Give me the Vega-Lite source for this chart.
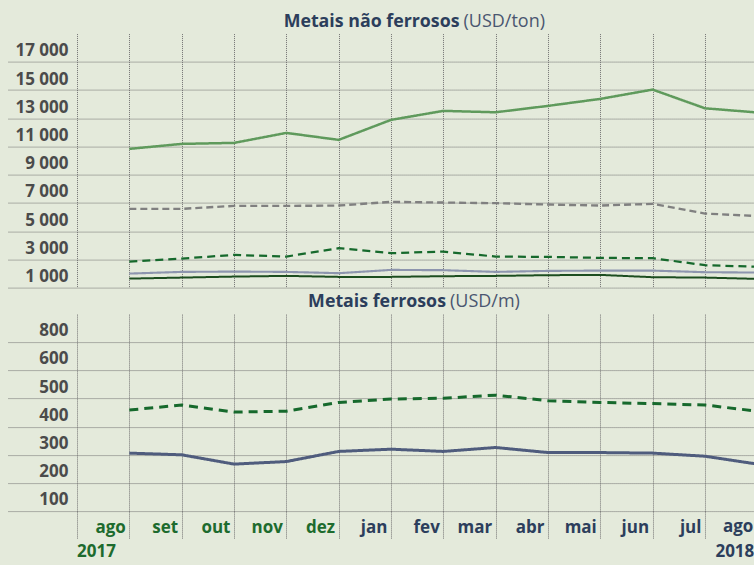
{
  "$schema": "https://vega.github.io/schema/vega-lite/v6.json",
  "background": "#e4eadb",
  "padding": {"left": 8, "top": 12.6, "right": 0, "bottom": 4},
  "spacing": 4.5,
  "resolve": {"scale": {"color": "independent", "strokeDash": "independent", "strokeWidth": "independent"}},
  "config": {
    "view": {"stroke": null},
    "font": "Open Sans",
    "axis": {
      "gridColor": "#707070",
      "gridDash": [1, 1],
      "gridWidth": 1,
      "gridOpacity": 1,
      "domain": false,
      "title": null,
      "tickCount": 40,
      "labelFont": "Open Sans",
      "labelFontWeight": "bold",
      "labelFontSize": 17,
      "labelOverlap": false,
      "labelFlush": false
    }
  },
  "datasets": {
    "naoferrosos": [
      {"i": 1, "mes": "ago 2017", "A": 10830, "B": 6580, "C": 2843, "D": 1993, "E": 1638},
      {"i": 2, "mes": "set 2017", "A": 11184, "B": 6580, "C": 3056, "D": 2113, "E": 1709},
      {"i": 3, "mes": "out 2017", "A": 11255, "B": 6792, "C": 3318, "D": 2134, "E": 1780},
      {"i": 4, "mes": "nov 2017", "A": 11963, "B": 6792, "C": 3198, "D": 2113, "E": 1830},
      {"i": 5, "mes": "dez 2017", "A": 11468, "B": 6814, "C": 3793, "D": 2021, "E": 1759},
      {"i": 6, "mes": "jan 2018", "A": 12885, "B": 7076, "C": 3439, "D": 2255, "E": 1759},
      {"i": 7, "mes": "fev 2018", "A": 13523, "B": 7027, "C": 3552, "D": 2234, "E": 1808},
      {"i": 8, "mes": "mar 2018", "A": 13424, "B": 6984, "C": 3198, "D": 2113, "E": 1830},
      {"i": 9, "mes": "abr 2018", "A": 13877, "B": 6885, "C": 3177, "D": 2184, "E": 1879},
      {"i": 10, "mes": "mai 2018", "A": 14373, "B": 6814, "C": 3106, "D": 2205, "E": 1900},
      {"i": 11, "mes": "jun 2018", "A": 15032, "B": 6934, "C": 3084, "D": 2205, "E": 1737},
      {"i": 12, "mes": "jul 2018", "A": 13707, "B": 6247, "C": 2588, "D": 2092, "E": 1709},
      {"i": 13, "mes": "ago 2018", "A": 13409, "B": 6070, "C": 2482, "D": 2064, "E": 1617}
    ],
    "ferrosos": [
      {"i": 1, "mes": "ago 2017", "A": 459, "B": 306},
      {"i": 2, "mes": "set 2017", "A": 477, "B": 300},
      {"i": 3, "mes": "out 2017", "A": 452, "B": 267},
      {"i": 4, "mes": "nov 2017", "A": 455, "B": 276},
      {"i": 5, "mes": "dez 2017", "A": 486, "B": 312},
      {"i": 6, "mes": "jan 2018", "A": 498, "B": 320},
      {"i": 7, "mes": "fev 2018", "A": 501, "B": 312},
      {"i": 8, "mes": "mar 2018", "A": 512, "B": 326},
      {"i": 9, "mes": "abr 2018", "A": 492, "B": 308},
      {"i": 10, "mes": "mai 2018", "A": 486, "B": 308},
      {"i": 11, "mes": "jun 2018", "A": 482, "B": 306},
      {"i": 12, "mes": "jul 2018", "A": 477, "B": 295},
      {"i": 13, "mes": "ago 2018", "A": 455, "B": 267}
    ]
  },
  "vconcat": [
    {
      "width": 746,
      "height": 254,
      "layer": [
        {
          "data": {"name": "naoferrosos"},
          "transform": [{"fold": ["A", "B", "C", "D", "E"], "as": ["serie", "v"]}],
          "mark": {"type": "line", "clip": true},
          "encoding": {
            "x": {
              "field": "i", "type": "quantitative",
              "scale": {"domain": [-1.3185, 12.937], "nice": false, "zero": false},
              "axis": {"values": [0, 1, 2, 3, 4, 5, 6, 7, 8, 9, 10, 11, 12], "labels": false, "ticks": false, "grid": true}
            },
            "y": {
              "field": "v", "type": "quantitative",
              "scale": {"domain": [1000, 19000], "nice": false, "zero": false},
              "axis": {
                "values": [1000, 3000, 5000, 7000, 9000, 11000, 13000, 15000, 17000],
                "ticks": false, "grid": true,
                "labelAlign": "right", "labelPadding": -60,
                "labelBaseline": "alphabetic", "labelOffset": -6,
                "labelColor": "#4b4b4b",
                "labelExpr": "replace(format(datum.value, ','), ',', ' ')"
              }
            },
            "color": {
              "field": "serie", "type": "nominal",
              "scale": {"domain": ["A", "B", "C", "D", "E"], "range": ["#5f9a5c", "#808080", "#16692c", "#8d95ae", "#1c4d1f"]},
              "legend": null
            },
            "strokeDash": {
              "field": "serie", "type": "nominal",
              "scale": {"domain": ["A", "B", "C", "D", "E"], "range": [[1, 0], [7, 4], [8, 5], [1, 0], [1, 0]]},
              "legend": null
            },
            "strokeWidth": {
              "field": "serie", "type": "ordinal",
              "scale": {"domain": ["A", "B", "C", "D", "E"], "range": [2.5, 2, 3, 3, 3]},
              "legend": null
            }
          }
        },
        {
          "data": {"values": [{"titulo": "Metais não ferrosos", "unidade": "(USD/ton)"}]},
          "layer": [
            {
              "mark": {"type": "text", "align": "right", "baseline": "alphabetic", "font": "Open Sans", "fontWeight": "bold", "fontSize": 17.8, "color": "#2c3e5c"},
              "encoding": {"text": {"field": "titulo"}, "x": {"datum": 7.31, "type": "quantitative"}, "y": {"datum": 19496, "type": "quantitative"}}
            },
            {
              "mark": {"type": "text", "align": "left", "baseline": "alphabetic", "dx": 4, "font": "Open Sans", "fontWeight": "normal", "fontSize": 18, "color": "#4a5670"},
              "encoding": {"text": {"field": "unidade"}, "x": {"datum": 7.31, "type": "quantitative"}, "y": {"datum": 19496, "type": "quantitative"}}
            }
          ]
        }
      ]
    },
    {
      "width": 746,
      "height": 197,
      "layer": [
        {
          "data": {"name": "ferrosos"},
          "transform": [{"fold": ["A", "B"], "as": ["serie", "v"]}],
          "mark": {"type": "line", "clip": true},
          "encoding": {
            "x": {
              "field": "i", "type": "quantitative",
              "scale": {"domain": [-1.3185, 12.937], "nice": false, "zero": false},
              "axis": {
                "values": [0, 1, 2, 3, 4, 5, 6, 7, 8, 9, 10, 11, 12],
                "grid": true,
                "ticks": true, "tickSize": 28, "tickDash": [1, 1], "tickColor": "#707070", "tickWidth": 1,
                "labelExpr": "['','ago','set','out','nov','dez','jan','fev','mar','abr','mai','jun','jul'][datum.value]",
                "labelAlign": "right", "labelOffset": -4, "labelBaseline": "alphabetic", "labelPadding": -6.7,
                "labelColor": {"condition": {"test": "datum.value <= 5", "value": "#1d6b2e"}, "value": "#2c3e5c"}
              }
            },
            "y": {
              "field": "v", "type": "quantitative",
              "scale": {"domain": [100, 800], "nice": false, "zero": false},
              "axis": {
                "values": [100, 200, 300, 400, 500, 600, 700],
                "ticks": false, "grid": true,
                "labelAlign": "right", "labelPadding": -60,
                "labelBaseline": "alphabetic", "labelOffset": -6.5,
                "labelColor": "#4b4b4b",
                "labelExpr": "datum.value == 700 ? '800' : datum.label"
              }
            },
            "color": {
              "field": "serie", "type": "nominal",
              "scale": {"domain": ["A", "B"], "range": ["#16692c", "#4f5c7d"]},
              "legend": null
            },
            "strokeDash": {
              "field": "serie", "type": "nominal",
              "scale": {"domain": ["A", "B"], "range": [[9, 6], [1, 0]]},
              "legend": null
            },
            "strokeWidth": {"value": 3}
          }
        },
        {
          "data": {"values": [{"titulo": "Metais ferrosos", "unidade": "(USD/m)"}]},
          "layer": [
            {
              "mark": {"type": "text", "align": "right", "baseline": "alphabetic", "font": "Open Sans", "fontWeight": "bold", "fontSize": 17.8, "color": "#2c3e5c"},
              "encoding": {"text": {"field": "titulo"}, "x": {"datum": 7.051, "type": "quantitative"}, "y": {"datum": 826, "type": "quantitative"}}
            },
            {
              "mark": {"type": "text", "align": "left", "baseline": "alphabetic", "dx": 4, "font": "Open Sans", "fontWeight": "normal", "fontSize": 18, "color": "#4a5670"},
              "encoding": {"text": {"field": "unidade"}, "x": {"datum": 7.051, "type": "quantitative"}, "y": {"datum": 826, "type": "quantitative"}}
            }
          ]
        },
        {
          "data": {"values": [{"i": 13, "rotulo": "ago", "ano": "2018"}]},
          "layer": [
            {
              "mark": {"type": "text", "align": "right", "baseline": "alphabetic", "dx": -4, "font": "Open Sans", "fontWeight": "bold", "fontSize": 17, "color": "#2c3e5c"},
              "encoding": {"text": {"field": "rotulo"}, "x": {"field": "i", "type": "quantitative"}, "y": {"datum": 24.3, "type": "quantitative"}}
            },
            {
              "mark": {"type": "text", "align": "right", "baseline": "alphabetic", "dx": -3, "font": "Open Sans", "fontWeight": "bold", "fontSize": 17, "color": "#2c3e5c"},
              "encoding": {"text": {"field": "ano"}, "x": {"field": "i", "type": "quantitative"}, "y": {"datum": -63, "type": "quantitative"}}
            }
          ]
        },
        {
          "data": {"values": [{"i": 0, "ano": "2017"}]},
          "mark": {"type": "text", "align": "left", "baseline": "alphabetic", "font": "Open Sans", "fontWeight": "bold", "fontSize": 17, "color": "#1d6b2e"},
          "encoding": {"text": {"field": "ano"}, "x": {"field": "i", "type": "quantitative"}, "y": {"datum": -63, "type": "quantitative"}}
        }
      ]
    }
  ]
}
